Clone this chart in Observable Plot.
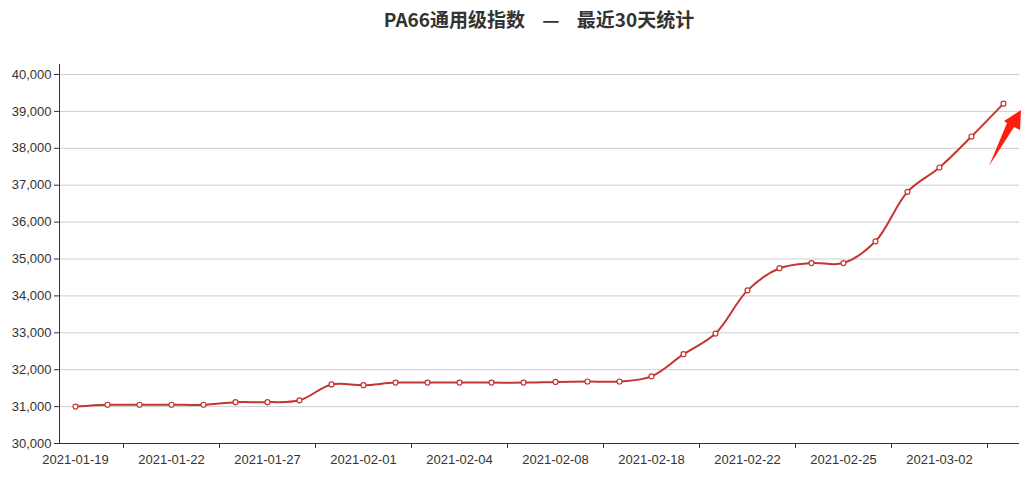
<!DOCTYPE html>
<html>
<head>
<meta charset="utf-8">
<script src="https://cdn.jsdelivr.net/npm/d3@7"></script>
<script src="https://cdn.jsdelivr.net/npm/@observablehq/plot@0.6"></script>
<style>
  html, body { margin: 0; padding: 0; background: #fff; }
  #wrap { position: relative; width: 1032px; height: 480px; }
  #title { position: absolute; top: 6px; left: 539px; transform: translateX(-50%); white-space: pre;
    font-family: "Noto Sans CJK SC", "Noto Sans", sans-serif; font-weight: bold; font-size: 19px; line-height: 26px; color: #333; }
  #arrow { position: absolute; left: 0; top: 0; pointer-events: none; }
</style>
</head>
<body>
<div id="wrap">
  <div id="title">PA66通用级指数    —    最近30天统计</div>
</div>
<script>
const dates = [
  "2021-01-19","2021-01-20","2021-01-21","2021-01-22","2021-01-25","2021-01-26",
  "2021-01-27","2021-01-28","2021-01-29","2021-02-01","2021-02-02","2021-02-03",
  "2021-02-04","2021-02-05","2021-02-07","2021-02-08","2021-02-09","2021-02-10",
  "2021-02-18","2021-02-19","2021-02-20","2021-02-22","2021-02-23","2021-02-24",
  "2021-02-25","2021-02-26","2021-03-01","2021-03-02","2021-03-03","2021-03-04"
];
const values = [
  31000, 31050, 31050, 31050, 31050, 31120,
  31120, 31170, 31600, 31580, 31650, 31650,
  31650, 31650, 31650, 31670, 31680, 31680,
  31820, 32420, 32980, 34150, 34750, 34890,
  34890, 35480, 36820, 37480, 38320, 39210
];
const yTicks = [30000, 31000, 32000, 33000, 34000, 35000, 36000, 37000, 38000, 39000, 40000];
const yDomain = [30000, 40271];
const labelDates = dates.filter((d, i) => i % 3 === 0);
const tickDates = dates.filter((d, i) => i % 3 === 1);

const W = 1032, H = 480, mL = 59, mR = 13, mT = 64, mB = 37;
const step = (W - mL - mR) / dates.length;
const data = dates.map((d, i) => ({date: d, value: values[i]}));
const red = "#c23531";

const chart = Plot.plot({
  width: W, height: H,
  marginLeft: mL, marginRight: mR, marginTop: mT, marginBottom: mB,
  style: {fontFamily: "'Liberation Sans', Arial, sans-serif", fontSize: "13px", color: "#333", background: "#fff"},
  x: {type: "point", domain: dates, padding: 0.5, align: 0.5, axis: null},
  y: {domain: yDomain, axis: null},
  marks: [
    Plot.gridY(yTicks, {stroke: "#ccc", strokeOpacity: 1}),
    Plot.ruleY([yDomain[0]], {stroke: "#333", strokeWidth: 1}),
    Plot.ruleX([dates[0]], {dx: -step / 2, stroke: "#333", strokeWidth: 1}),
    Plot.axisY(yTicks, {tickSize: 5, tickPadding: 3, tickFormat: d3.format(","), stroke: "#333", fill: "#333", label: null}),
    Plot.axisX(tickDates, {tickSize: 5, dx: step / 2, tickFormat: () => "", stroke: "#333", label: null}),
    Plot.axisX(labelDates, {tickSize: 0, tickPadding: 11, fill: "#333", label: null}),
    Plot.line(data, {x: "date", y: "value", curve: "catmull-rom", stroke: red, strokeWidth: 2}),
    Plot.dot(data, {x: "date", y: "value", r: 2.5, fill: "#fff", stroke: red, strokeWidth: 1.2})
  ]
});
const wrap = document.getElementById("wrap");
wrap.insertBefore(chart, wrap.firstChild);

// decorative red arrow overlay (annotation, not data)
const ns = "http://www.w3.org/2000/svg";
const svg = document.createElementNS(ns, "svg");
svg.setAttribute("id", "arrow");
svg.setAttribute("width", W);
svg.setAttribute("height", H);
const p = document.createElementNS(ns, "path");
p.setAttribute("d", "M989,166 L1007,123 L1004,121 L1021,110 L1020,130 L1014,127 Z");
p.setAttribute("fill", "#ff1e0e");
svg.appendChild(p);
wrap.appendChild(svg);
</script>
</body>
</html>
